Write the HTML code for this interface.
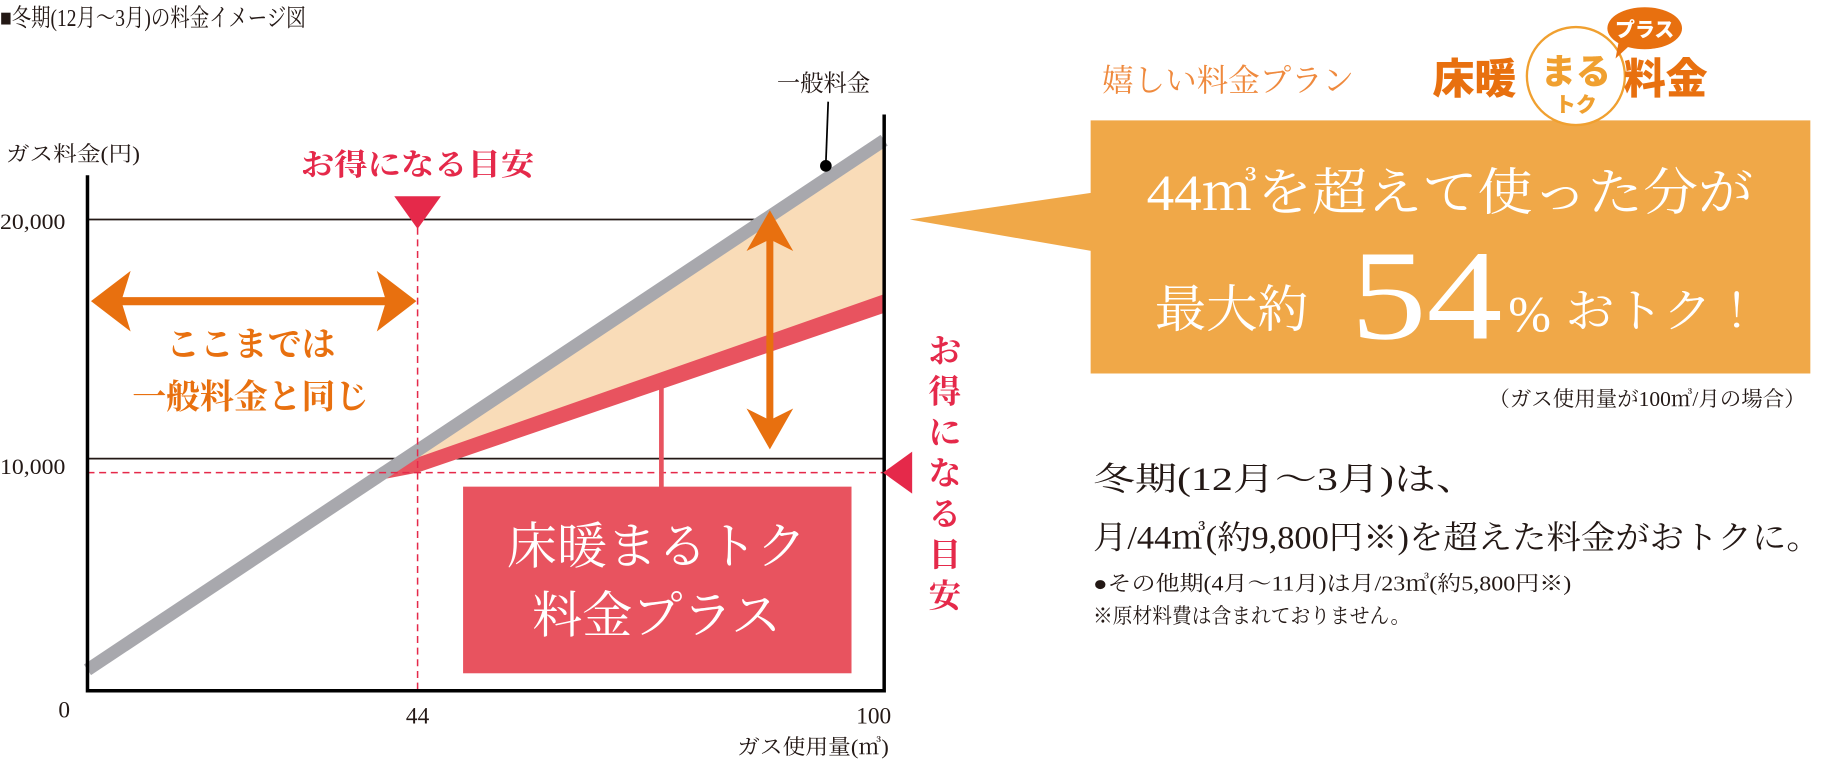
<!DOCTYPE html>
<html><head><meta charset="utf-8"><style>
html,body{margin:0;padding:0;background:#fff;}
svg{display:block;}
text{font-family:"Liberation Serif","Noto Serif CJK JP",serif;}
</style></head><body>
<svg width="1829" height="761" viewBox="0 0 1568 652" xmlns="http://www.w3.org/2000/svg">
<text x="0" y="22" font-size="21" fill="#231815" textLength="262" lengthAdjust="spacingAndGlyphs">■冬期(12月～3月)の料金イメージ図</text>
<line x1="75" y1="188" x2="660" y2="188" stroke="#231815" stroke-width="1.5"/>
<line x1="75" y1="393" x2="758" y2="393" stroke="#231815" stroke-width="1.5"/>
<polygon points="340,398 758,124 758,256 358,398" fill="#f9dcb8"/>
<polygon points="316,413 358,392 758,252 758,268 358,405" fill="#e8535f"/>
<line x1="75" y1="574" x2="758" y2="120" stroke="#a8a8ad" stroke-width="11"/>
<line x1="358" y1="185" x2="358" y2="592" stroke="#e5294a" stroke-width="1.3" stroke-dasharray="6,4"/>
<line x1="75" y1="405" x2="758" y2="405" stroke="#e5294a" stroke-width="1.3" stroke-dasharray="6,4"/>
<polyline points="75,150 75,592 758,592 758,98" fill="none" stroke="#000" stroke-width="3"/>
<text x="5" y="138" font-size="18" fill="#231815" textLength="115" lengthAdjust="spacingAndGlyphs">ガス料金(円)</text>
<text x="0" y="196" font-size="19" fill="#231815" textLength="56" lengthAdjust="spacingAndGlyphs">20,000</text>
<text x="0" y="406" font-size="19" fill="#231815" textLength="56" lengthAdjust="spacingAndGlyphs">10,000</text>
<text x="55" y="615" font-size="20" fill="#231815" text-anchor="middle">0</text>
<text x="358" y="620" font-size="20" fill="#231815" text-anchor="middle">44</text>
<text x="749" y="620" font-size="20" fill="#231815" text-anchor="middle">100</text>
<text x="762" y="646" font-size="18" fill="#231815" text-anchor="end" textLength="130" lengthAdjust="spacingAndGlyphs">ガス使用量(㎥)</text>
<text x="706" y="78" font-size="20" fill="#231815" text-anchor="middle">一般料金</text>
<line x1="710" y1="87" x2="708" y2="140" stroke="#000" stroke-width="1.5"/>
<circle cx="708" cy="142" r="5" fill="#000"/>
<text x="358" y="150" font-size="26" fill="#e5294a" text-anchor="middle" font-weight="bold" textLength="200" lengthAdjust="spacingAndGlyphs">お得になる目安</text>
<polygon points="338,168 378,168 358,196" fill="#e5294a"/>
<line x1="95" y1="258" x2="340" y2="258" stroke="#e8700f" stroke-width="7"/>
<polygon points="78,258 112,232 104,258 112,284" fill="#e8700f"/>
<polygon points="357,258 323,232 331,258 323,284" fill="#e8700f"/>
<text x="215" y="305" font-size="29" fill="#e8700f" text-anchor="middle" font-weight="bold">ここまでは</text>
<text x="215" y="350" font-size="29" fill="#e8700f" text-anchor="middle" font-weight="bold">一般料金と同じ</text>
<line x1="660" y1="200" x2="660" y2="365" stroke="#e8700f" stroke-width="6"/>
<polygon points="660,180 640,215 660,205 680,215" fill="#e8700f"/>
<polygon points="660,385 640,350 660,360 680,350" fill="#e8700f"/>
<line x1="567" y1="330" x2="567" y2="418" stroke="#e8535f" stroke-width="4"/>
<rect x="397" y="417" width="333" height="160" fill="#e8535f"/>
<text x="563" y="483" font-size="43" fill="#fff" text-anchor="middle">床暖まるトク</text>
<text x="563" y="542" font-size="43" fill="#fff" text-anchor="middle">料金プラス</text>
<polygon points="757,405 782,387 782,423" fill="#e5294a"/>
<g font-size="28" fill="#e5294a" font-weight="bold" text-anchor="middle">
<text x="810" y="310">お</text><text x="810" y="345">得</text><text x="810" y="380">に</text><text x="810" y="415">な</text><text x="810" y="450">る</text><text x="810" y="485">目</text><text x="810" y="520">安</text>
</g>
<polygon points="780,188 936,165 936,215" fill="#f0a848"/>
<rect x="935" y="103" width="617" height="217" fill="#f0a848"/>
<text x="1243" y="180" font-size="44" fill="#fff" text-anchor="middle" textLength="520" lengthAdjust="spacingAndGlyphs">44㎥を超えて使った分が</text>
<text x="990" y="280" font-size="44" fill="#fff">最大約</text>
<text x="1158" y="290" font-size="110" fill="#fff" textLength="130" lengthAdjust="spacingAndGlyphs">54</text>
<text x="1293" y="284" font-size="44" fill="#fff">%</text>
<text x="1342" y="280" font-size="40" fill="#fff" textLength="168" lengthAdjust="spacingAndGlyphs">おトク！</text>
<text x="945" y="78" font-size="27" fill="#ef8a3e">嬉しい料金プラン</text>
<g font-weight="900" fill="#e8700f">
<text x="1228" y="80" font-size="36" style="font-family:'Noto Sans CJK JP',sans-serif">床暖</text>
<circle cx="1351" cy="65" r="42" fill="#fff" stroke="#f0a030" stroke-width="2"/>
<text x="1351" y="72" font-size="30" text-anchor="middle" fill="#f0a030" style="font-family:'Noto Sans CJK JP',sans-serif">まる</text>
<text x="1351" y="96" font-size="18" text-anchor="middle" fill="#f0a030" style="font-family:'Noto Sans CJK JP',sans-serif">トク</text>
<text x="1392" y="80" font-size="36" style="font-family:'Noto Sans CJK JP',sans-serif">料金</text>
<ellipse cx="1410" cy="24" rx="32" ry="18" fill="#e8700f"/>
<polygon points="1388,34 1398,38 1385,50" fill="#e8700f"/>
<text x="1410" y="31" font-size="17" text-anchor="middle" fill="#fff" style="font-family:'Noto Sans CJK JP',sans-serif">プラス</text>
</g>
<text x="1548" y="348" font-size="18" fill="#231815" text-anchor="end" textLength="272" lengthAdjust="spacingAndGlyphs">（ガス使用量が100㎥/月の場合）</text>
<text x="937" y="420" font-size="28" fill="#231815" textLength="330" lengthAdjust="spacingAndGlyphs">冬期(12月～3月)は、</text>
<text x="937" y="470" font-size="28" fill="#231815" textLength="624" lengthAdjust="spacingAndGlyphs">月/44㎥(約9,800円※)を超えた料金がおトクに。</text>
<text x="937" y="506" font-size="18" fill="#231815" textLength="410" lengthAdjust="spacingAndGlyphs">●その他期(4月～11月)は月/23㎥(約5,800円※)</text>
<text x="937" y="534" font-size="18" fill="#231815" textLength="272" lengthAdjust="spacingAndGlyphs">※原材料費は含まれておりません。</text>
</svg>
</body></html>
